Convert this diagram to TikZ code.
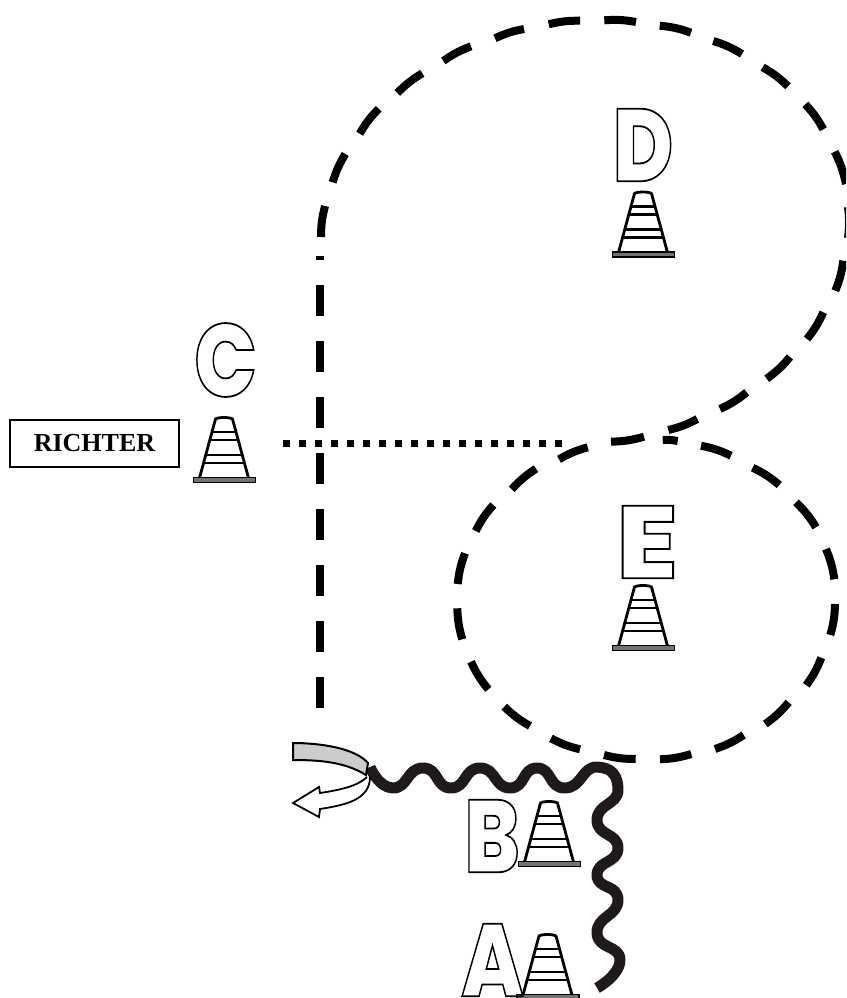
\documentclass[tikz,border=0pt]{standalone}
\usepackage{fontspec}
\setmainfont{Liberation Serif}
\newfontfamily\lettersans{Poppins ExtraBold}
\newcommand{\outl}[1]{\special{pdf:code q 1 Tr 1.8 w}#1\special{pdf:code Q}}
\definecolor{wavecol}{RGB}{30,26,27}
\tikzset{
  x=1pt,y=-1pt,
  course/.style={line width=8pt,every to/.style={bend left=7}},
  approach/.style={line width=8pt,dash pattern=on 31pt off 25pt},
  pass/.style={line width=7pt,dash pattern=on 7pt off 9pt},
  wavy/.style={line width=11pt,color=wavecol},
  bigletter/.style={inner sep=0pt,font=\lettersans\fontsize{103}{103}\selectfont,xscale=.8},
  playerbox/.style={draw,line width=1.5pt,minimum width=169pt,minimum height=47pt,inner sep=0pt,font=\bfseries\fontsize{26}{26}\selectfont},
  pics/cone/.style={code={
    \draw[line width=2.8pt,line join=round] (-25,-2) -- (-9,-61) .. controls (-6,-63) and (5,-63) .. (8,-61) -- (24,-2);
    \draw[line width=2.4pt] (-13,-48) -- (12,-48) (-15,-40) -- (14,-40) (-19,-25) -- (18,-25) (-21,-17) -- (20,-17);
    \fill[black!55] (-31,-2.5) rectangle (31,2.5);
    \draw[line width=1.6pt] (-31,-2.5) rectangle (31,2.5);
  }}
}
\begin{document}
\begin{tikzpicture}
\useasboundingbox (0,0) rectangle (846,998);
\clip (0,0) rectangle (846,998);
% course around cone D
\draw[course]
  (321,237) to (325,206) (332.7,182.3) to (345.3,154) (359.7,133.7) to (378.7,108.7)
  (397.3,93) to (422.3,73.3) (443.3,61) to (471,46.3) (495,38.3) to (524,29)
  (548.7,24.3) to (580,20.7) (604.3,20.3) to (636,22) (659.7,25.7) to (691,32.7)
  (713.3,41) to (742,54) (762.7,67.3) to (788,86.3) (805.3,104.3) to (823.3,129.3)
  (834.7,151.7) to (846,184) (848,207) to (848,238) (843.3,260.7) to (835.3,290.7)
  (823.3,312.3) to (807,339) (790,357) to (766.7,378.7) (746.7,392.3) to (720,409)
  (697.3,419) to (668.3,430) (644,436.7) to (611,441.7);
% course around cone E
\draw[course]
  (662.7,440) to (677.7,441) (701,445.7) to (731,455.7) (752.7,467.7) to (779.3,485)
  (796,502.3) to (816,527.3) (826,549) to (834.3,579.3) (835,604) to (830.3,635)
  (821.3,657.7) to (806.3,685.3) (788.7,702.3) to (765.3,724) (743.7,735) to (715,749)
  (691.3,754) to (660,759.3) (635.7,759) to (604,755) (580,749.3) to (551,738.3)
  (530,726) to (504.3,706.7) (488.3,689.3) to (471,661.7) (462.3,639.3) to (457.3,608.3)
  (457.7,584) to (465,553.3) (475.7,531) to (493.3,505) (511.7,489.3) to (536,468.7)
  (559,459.3) to (587.7,447.3);
\draw[approach] (319.5,708) -- (319.5,256);
\draw[pass] (283,443) -- (567,443);
% wavy run
\draw[wavy,line join=round] plot[smooth,tension=1] coordinates {(370,767) (393,788) (423,768) (451,788) (480,768) (510,788) (537,768) (565,788) (597,767) (618,790) (597,820) (618,848) (597,875) (618,900) (597,933) (620,960) (597,988)};
% turn
\draw[fill=black!20,line width=2pt] (293,743) .. controls (320,743) and (355,748) .. (368,763) -- (366,775) .. controls (345,762) and (320,760) .. (293,760) -- cycle;
\draw[fill=white,line width=1.8pt,line join=miter] (367,777) .. controls (358,786) and (340,790) .. (320,793) -- (319,787) -- (293,803) -- (319,817) -- (320,809) .. controls (345,805) and (370,800) .. (370,777);
% cones
\pic at (643.5,254.5) {cone};
\pic at (224.5,480) {cone};
\pic at (643.5,648) {cone};
\pic at (549.5,864) {cone};
\pic at (548,997) {cone};
% letters
\node[bigletter] (letterD) at (643,145) {\outl{D}};
\node[bigletter] (letterC) at (225.5,360) {\outl{C}};
\node[bigletter,xscale=1.36] (letterE) at (647,542) {\outl{E}};
\node[bigletter] (letterB) at (492,836) {\outl{B}};
\node[bigletter] (letterA) at (492.5,960) {\outl{A}};
\node[playerbox] (richter) at (94.5,443.5) {RICHTER};
\end{tikzpicture}
\end{document}
